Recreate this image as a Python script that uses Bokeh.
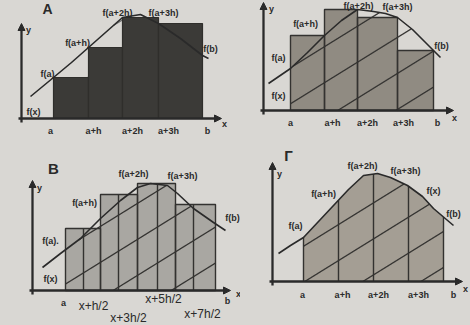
import numpy as np
from bokeh.plotting import figure
from bokeh.layouts import column, row
from bokeh.models import Range1d, Arrow, NormalHead
from bokeh.core.properties import value
from bokeh.embed import file_html
from bokeh.resources import INLINE

# ---------------- data (picture units) ----------------
# Panel A: left rectangles
A_nodes = [32, 67, 101, 137, 181]            # a, a+h, a+2h, a+3h, b
A_heights = [41, 71, 101, 95]                # f(a), f(a+h), f(a+2h), f(a+3h)
A_curve_x = [9, 32, 50, 67, 84, 101, 119, 137, 159, 181, 187]
A_curve_y = [22, 41, 56, 71, 86, 101, 104, 95, 80, 63, 60]

# Panel Б: right rectangles
B1_nodes = [27, 61, 94, 134, 170]
B1_heights = [75, 101, 93, 60]               # f(a+h), f(a+2h), f(a+3h), f(b)
B1_curve_x = [5, 27, 44, 61, 78, 94, 110, 122, 134, 149, 162, 170, 177]
B1_curve_y = [27, 42, 58, 75, 90, 101, 99, 97, 93, 81, 68, 60, 53]

# Panel В: midpoint rectangles
V_nodes = [33, 68, 105, 143, 183]
V_mids = [51, 86, 125, 161]
V_heights = [62, 96, 107, 86]
V_curve_x = [10, 28, 48, 68, 88, 105, 118, 135, 145, 161, 181, 193]
V_curve_y = [23, 37, 52, 72, 90, 103, 107, 105, 97, 82, 68, 60]

# Panel Г: trapezoids
G_nodes = [31, 66, 101, 136, 171]
G_curve_x = [6, 18, 31, 46, 61, 76, 91, 105, 118, 135, 150, 161, 181]
G_curve_y = [28, 36, 44, 60, 76, 92, 106, 108, 104, 96, 85, 73, 56]

# texts
ticks_std = ["a", "a+h", "a+2h", "a+3h", "b", "x"]
ticks_mid = ["a", "x+h/2", "x+3h/2", "x+5h/2", "x+7h/2", "b", "x"]
A_labels = ["f(a)", "f(a+h)", "f(a+2h)", "f(a+3h)", "f(b)", "f(x)", "y"]
B1_labels = ["f(a)", "f(a+h)", "f(a+2h)", "f(a+3h)", "f(b)", "f(x)", "y"]
V_labels = ["f(a).", "f(a+h)", "f(a+2h)", "f(a+3h)", "f(b)", "f(x)", "y"]
G_labels = ["f(a)", "f(a+h)", "f(a+2h)", "f(a+3h)", "f(x)", "f(b)", "y"]
titles = ["А", "", "В", "Г"]

# ---------------- styles ----------------
INK = "#2a2a2a"
FONT = "Liberation Sans"
SLOPE = 0.62
STEP = 36
BG = "#d9d7d3"


def make_fig(W, H, xr, yr):
    p = figure(width=W, height=H, x_range=Range1d(*xr), y_range=Range1d(*yr),
               output_backend="svg", toolbar_location=None,
               x_axis_location=None, y_axis_location=None,
               min_border=0, title=None)
    p.grid.visible = False
    p.outline_line_color = None
    p.background_fill_color = BG
    p.border_fill_color = BG
    return p


def axes(p, xend, yend):
    for (x0, y0, x1, y1) in [(-3, 0, xend, 0), (0, -4, 0, yend)]:
        p.add_layout(Arrow(end=NormalHead(size=7, fill_color=INK, line_color=INK),
                           x_start=x0, y_start=y0, x_end=x1, y_end=y1,
                           line_width=2.3, line_color=INK))


def hatch(cx, cy, a, b, phase):
    us = np.linspace(a, b, 500)
    top = np.interp(us, cx, cy)
    xs, ys = [], []
    c = phase
    while c > -SLOPE * b:
        c -= STEP
    while c < max(cy):
        v = SLOPE * us + c
        idx = np.where((v >= 0) & (v <= top))[0]
        if len(idx) > 1:
            runs = np.split(idx, np.where(np.diff(idx) > 1)[0] + 1)
            for r in runs:
                if len(r) > 1:
                    xs.append(list(us[r]))
                    ys.append(list(v[r]))
        c += STEP
    return xs, ys


def texts(p, xs, ys, t, size="9px", style="bold", align="center"):
    p.text(x=xs, y=ys, text=t, text_font=value(FONT), text_font_size=size,
           text_font_style=style, text_align=align, text_baseline="middle",
           text_color=INK)


# ---------------- panel A ----------------
pA = make_fig(240, 145, (-21, 219), (-27, 118))
hx, hy = hatch(A_curve_x, A_curve_y, A_nodes[0], A_nodes[-1], 0)
pA.multi_line(hx, hy, line_color="#6e6e6e", line_width=1.2)
pA.quad(left=A_nodes[:-1], right=A_nodes[1:], bottom=0, top=A_heights,
        fill_color="#3b3a37", line_color="#2f2e2b", line_width=1.2)
pA.line(A_curve_x, A_curve_y, line_color=INK, line_width=1.6)
axes(pA, 200, 95)
texts(pA, [26], [110], [titles[0]], size="14px")
texts(pA, [26, 56, 96, 142, 189, 12, 7], [45, 76, 106, 106, 70, 7, 89], A_labels)
texts(pA, [29, 72, 111, 147, 186, 203], [-12] * 5 + [-5], ticks_std)

# ---------------- panel Б ----------------
pB = make_fig(230, 145, (-23, 207), (-35, 110))
pB.quad(left=B1_nodes[:-1], right=B1_nodes[1:], bottom=0, top=B1_heights,
        fill_color="#908b82", line_color=None)
hx, hy = hatch(B1_curve_x, B1_curve_y, B1_nodes[0], B1_nodes[-1], -10)
pB.multi_line(hx, hy, line_color="#353432", line_width=1.3)
pB.quad(left=B1_nodes[:-1], right=B1_nodes[1:], bottom=0, top=B1_heights,
        fill_color=None, line_color="#333230", line_width=1.4)
pB.line(B1_curve_x, B1_curve_y, line_color=INK, line_width=1.6)
axes(pB, 190, 108)
texts(pB, [15, 42, 95, 134, 178, 15, 8], [53, 87, 105, 104, 65, 15, 102], B1_labels)
texts(pB, [27, 69, 104, 140, 174, 191], [-12] * 5 + [-7], ticks_std)

# ---------------- panel В ----------------
pV = make_fig(240, 180, (-32, 208), (-35, 145))
pV.quad(left=V_nodes[:-1], right=V_nodes[1:], bottom=0, top=V_heights,
        fill_color="#a9a7a2", line_color=None)
hx, hy = hatch(V_curve_x, V_curve_y, V_nodes[0], V_nodes[-1], -14)
pV.multi_line(hx, hy, line_color="#353432", line_width=1.3)
pV.quad(left=V_nodes[:-1], right=V_nodes[1:], bottom=0, top=V_heights,
        fill_color=None, line_color="#333230", line_width=1.4)
pV.segment(x0=V_mids, y0=0, x1=V_mids, y1=V_heights, line_color="#333230", line_width=1.4)
pV.line(V_curve_x, V_curve_y, line_color=INK, line_width=1.6)
axes(pV, 198, 110)
texts(pV, [21], [122], [titles[2]], size="15px")
texts(pV, [18, 52, 101, 150, 200, 18, 7], [50, 88, 117, 115, 73, 12, 103], V_labels)
texts(pV, [31], [-12], [ticks_mid[0]])
texts(pV, [61, 96, 131, 170], [-15, -27, -8, -23], ticks_mid[1:5], size="12px", style="normal")
texts(pV, [195, 206], [-10, -3], ticks_mid[5:])

# ---------------- panel Г ----------------
pG = make_fig(230, 180, (-32, 198), (-44, 136))
a, b = G_nodes[0], G_nodes[-1]
inner = [i for i, x in enumerate(G_curve_x) if a < x < b]
px = [a, a] + [G_curve_x[i] for i in inner] + [b, b]
py = [0, float(np.interp(a, G_curve_x, G_curve_y))] + [G_curve_y[i] for i in inner] + \
     [float(np.interp(b, G_curve_x, G_curve_y)), 0]
pG.patch(px, py, fill_color="#a49e94", line_color=None)
hx, hy = hatch(G_curve_x, G_curve_y, a, b, -20)
pG.multi_line(hx, hy, line_color="#353432", line_width=1.3)
node_tops = list(np.interp(G_nodes, G_curve_x, G_curve_y))
pG.segment(x0=G_nodes, y0=0, x1=G_nodes, y1=node_tops, line_color="#333230", line_width=1.4)
pG.line(G_curve_x, G_curve_y, line_color=INK, line_width=1.6)
axes(pG, 190, 119)
texts(pG, [16], [126], [titles[3]], size="15px")
texts(pG, [23, 51, 90, 133, 161, 181, 7], [56, 88, 116, 111, 91, 68, 108], G_labels)
texts(pG, [30, 70, 106, 146, 181, 193], [-13] * 5 + [-7], ticks_std)

layout = column(row(pA, pB, spacing=0), row(pV, pG, spacing=0), spacing=0,
                background=BG)
open("out.html", "w").write(file_html(layout, INLINE))
